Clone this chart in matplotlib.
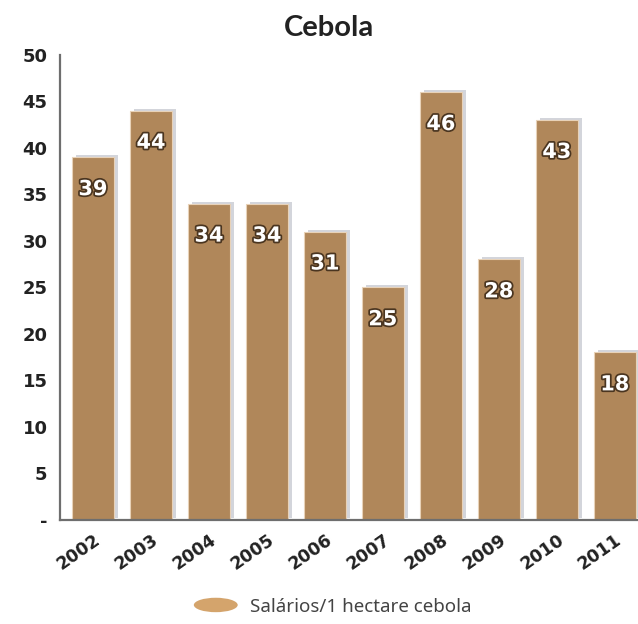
import numpy as np
import matplotlib.pyplot as plt
import matplotlib.patheffects as pe
import matplotlib.transforms as mtransforms
from matplotlib.patches import Ellipse
from matplotlib.legend_handler import HandlerPatch

years = ['2002', '2003', '2004', '2005', '2006', '2007', '2008', '2009', '2010', '2011']
salarios = [39, 44, 34, 34, 31, 25, 46, 28, 43, 18]
y_ticks = [0, 5, 10, 15, 20, 25, 30, 35, 40, 45, 50]
y_labels = ['-', '5', '10', '15', '20', '25', '30', '35', '40', '45', '50']

bar_color = '#B0875A'

class HandlerEllipse(HandlerPatch):
    def create_artists(self, legend, orig_handle, xdescent, ydescent,
                       width, height, fontsize, trans):
        cx = 0.5 * width - xdescent
        cy = 0.5 * height - ydescent
        p = Ellipse((cx, cy), width * 1.3, height * 1.1,
                    facecolor=orig_handle.get_facecolor(), edgecolor='none')
        p.set_transform(trans)
        return [p]

fig = plt.figure(figsize=(6.38, 6.24), dpi=100)
ax = fig.add_axes([0.094, 0.167, 0.906, 0.745])

x = np.arange(len(years))

# soft grey shadow behind each bar
shadow = mtransforms.offset_copy(ax.transData, fig=fig, x=4, y=2, units='dots')
ax.bar(x, salarios, width=0.72, color='#C9CBD2', alpha=0.8,
       transform=shadow, zorder=1)
bars = ax.bar(x, salarios, width=0.72, color=bar_color,
              edgecolor='#E8D2B8', linewidth=0.8, zorder=2)

for xi, v in zip(x, salarios):
    ax.annotate(str(v), (xi, v), xytext=(0, -23), textcoords='offset points',
                ha='center', va='center', fontsize=15, fontweight='bold',
                fontfamily='DejaVu Sans', color='white', zorder=3,
                path_effects=[pe.withStroke(linewidth=2.5, foreground='#4A3520')])

ax.set_xlim(-0.57, 9.4)
ax.set_ylim(0, 50)
ax.set_yticks(y_ticks)
ax.set_yticklabels(y_labels, fontsize=13, fontweight='bold', color='#222222')
ax.set_xticks(x)
ax.set_xticklabels(years, fontsize=12.5, fontweight='bold', color='#222222',
                   rotation=35, ha='right', rotation_mode='anchor')
offset = mtransforms.ScaledTranslation(13 / 100, 0, fig.dpi_scale_trans)
for lbl in ax.get_xticklabels():
    lbl.set_transform(lbl.get_transform() + offset)

ax.tick_params(axis='both', length=0)
ax.tick_params(axis='y', pad=9)
ax.tick_params(axis='x', pad=8)

for side in ['top', 'right']:
    ax.spines[side].set_visible(False)
for side in ['left', 'bottom']:
    ax.spines[side].set_color('#6E6E6E')
    ax.spines[side].set_linewidth(1.6)

fig.text(0.515, 0.955, 'Cebola', ha='center', va='center', fontfamily='Lato',
         fontsize=21, fontweight='bold', color='#222222')

handle = Ellipse((0, 0), 1, 1, facecolor='#D4A46C')
fig.legend([handle], ['Salários/1 hectare cebola'], loc='center',
           bbox_to_anchor=(0.525, 0.028), frameon=False,
           prop={'family': 'Noto Sans', 'size': 13.5},
           handler_map={Ellipse: HandlerEllipse()}, handlelength=1.8,
           handletextpad=0.9, labelcolor='#444444')

fig.savefig('out.png', dpi=100)
